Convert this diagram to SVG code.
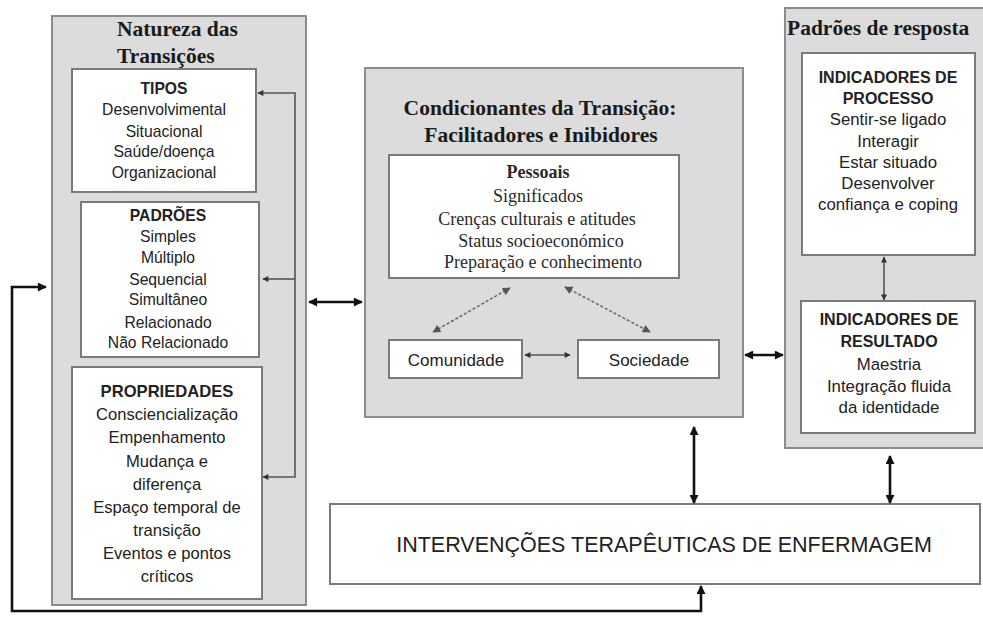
<svg xmlns="http://www.w3.org/2000/svg" width="983" height="617" viewBox="0 0 983 617">
<style>
.panel{fill:#dcdcdc;stroke:#8c8c8c;stroke-width:2}
.box{fill:#ffffff;stroke:#7a7a7a;stroke-width:2}
.title{font-family:"Liberation Serif","Times New Roman",serif;font-weight:bold;font-size:21.5px;fill:#1a1a1a}
.ser{font-family:"Liberation Serif","Times New Roman",serif;font-size:18px;fill:#2a2a2a;text-anchor:middle}
.s{font-family:"Liberation Sans",Arial,sans-serif;fill:#222;text-anchor:middle}
.b{font-weight:bold}
.blk{fill:none;stroke:#111;stroke-width:2.6}
.gry{fill:none;stroke:#555;stroke-width:1.6}
.dot{fill:none;stroke:#666;stroke-width:1.5;stroke-dasharray:3 2}
</style>
<defs>
<marker id="ab" viewBox="0 0 10 10" refX="9" refY="5" markerUnits="userSpaceOnUse" markerWidth="10" markerHeight="9" orient="auto-start-reverse">
<path d="M0,0 L10,5 L0,10 z" fill="#111"/>
</marker>
<marker id="ag" viewBox="0 0 10 10" refX="9" refY="5" markerUnits="userSpaceOnUse" markerWidth="7" markerHeight="6" orient="auto-start-reverse">
<path d="M0,0 L10,5 L0,10 z" fill="#333"/>
</marker>
<marker id="ad" viewBox="0 0 10 10" refX="9" refY="5" markerUnits="userSpaceOnUse" markerWidth="9" markerHeight="8" orient="auto-start-reverse">
<path d="M0,0 L10,5 L0,10 z" fill="#555"/>
</marker>
</defs>

<g id="natureza">
<rect class="panel" x="52" y="16" width="254" height="589"/>
<text class="title" x="117" y="36">Natureza das</text>
<text class="title" x="117" y="63">Transições</text>
</g>

<g id="tipos">
<rect class="box" x="72" y="69" width="184" height="123"/>
<g class="s" font-size="15.7">
<text class="b" x="164" y="94">TIPOS</text>
<text x="164" y="115">Desenvolvimental</text>
<text x="164" y="137">Situacional</text>
<text x="164" y="157">Saúde/doença</text>
<text x="164" y="178">Organizacional</text>
</g>
</g>

<g id="padroes">
<rect class="box" x="81" y="202" width="178" height="155"/>
<g class="s" font-size="15.7">
<text class="b" x="168" y="221">PADRÕES</text>
<text x="168" y="242">Simples</text>
<text x="168" y="263">Múltiplo</text>
<text x="168" y="285">Sequencial</text>
<text x="168" y="305">Simultâneo</text>
<text x="168" y="328">Relacionado</text>
<text x="168" y="348">Não Relacionado</text>
</g>
</g>

<g id="propriedades">
<rect class="box" x="72" y="367" width="190" height="232"/>
<g class="s" font-size="16.6">
<text class="b" x="167" y="397">PROPRIEDADES</text>
<text x="167" y="420">Consciencialização</text>
<text x="167" y="443">Empenhamento</text>
<text x="167" y="467">Mudança e</text>
<text x="167" y="490">diferença</text>
<text x="167" y="513">Espaço temporal de</text>
<text x="167" y="536">transição</text>
<text x="167" y="559">Eventos e pontos</text>
<text x="167" y="582">críticos</text>
</g>
</g>

<g id="condicionantes">
<rect class="panel" x="365" y="68" width="378" height="349"/>
<text class="title" x="540" y="115" text-anchor="middle" font-size="22">Condicionantes da Transição:</text>
<text class="title" x="541" y="142" text-anchor="middle" font-size="22">Facilitadores e Inibidores</text>
</g>

<g id="pessoais">
<rect class="box" x="389" y="155" width="290" height="123"/>
<text class="ser b" x="538" y="178" fill="#111">Pessoais</text>
<text class="ser" x="538" y="202">Significados</text>
<text class="ser" x="537" y="225">Crenças culturais e atitudes</text>
<text class="ser" x="541" y="247">Status socioeconómico</text>
<text class="ser" x="543" y="268">Preparação e conhecimento</text>
</g>

<g id="comunidade">
<rect class="box" x="389" y="340" width="133" height="38"/>
<text class="s" x="456" y="366" font-size="17">Comunidade</text>
</g>

<g id="sociedade">
<rect class="box" x="578" y="340" width="141" height="38"/>
<text class="s" x="649" y="366" font-size="17">Sociedade</text>
</g>

<g id="padroes-resposta">
<rect class="panel" x="785" y="8" width="210" height="440"/>
<text class="title" x="787" y="35" font-size="23">Padrões de resposta</text>
</g>

<g id="indicadores-processo">
<rect class="box" x="802" y="53" width="173" height="202"/>
<g class="s" font-size="16.8">
<text class="b" x="888" y="83" font-size="16">INDICADORES DE</text>
<text class="b" x="888" y="104" font-size="16">PROCESSO</text>
<text x="888" y="125">Sentir-se ligado</text>
<text x="888" y="147">Interagir</text>
<text x="888" y="168">Estar situado</text>
<text x="888" y="189">Desenvolver</text>
<text x="888" y="210">confiança e coping</text>
</g>
</g>

<g id="indicadores-resultado">
<rect class="box" x="801" y="301" width="174" height="132"/>
<g class="s" font-size="16.8">
<text class="b" x="889" y="325" font-size="16">INDICADORES DE</text>
<text class="b" x="889" y="347" font-size="16">RESULTADO</text>
<text x="889" y="370">Maestria</text>
<text x="889" y="392">Integração fluida</text>
<text x="889" y="413">da identidade</text>
</g>
</g>

<g id="intervencoes">
<rect class="box" x="330" y="504" width="650" height="80"/>
<text class="s" x="664" y="552" font-size="21.5">INTERVENÇÕES TERAPÊUTICAS DE ENFERMAGEM</text>
</g>

<g id="connectors">
<path class="gry" d="M258,93 H295 V477 H263" marker-start="url(#ag)" marker-end="url(#ag)"/>
<path class="gry" d="M295,279 H263" marker-end="url(#ag)"/>
<path class="blk" d="M309,302 H362" marker-start="url(#ab)" marker-end="url(#ab)"/>
<path class="blk" d="M745,355 H783" marker-start="url(#ab)" marker-end="url(#ab)"/>
<path class="dot" d="M510,288 L433,332" marker-start="url(#ad)" marker-end="url(#ad)"/>
<path class="dot" d="M565,287 L650,332" marker-start="url(#ad)" marker-end="url(#ad)"/>
<path class="gry" d="M525,355 H570" stroke="#222" marker-start="url(#ag)" marker-end="url(#ag)"/>
<path class="gry" d="M884,257 V300" stroke="#222" marker-start="url(#ag)" marker-end="url(#ag)"/>
<path class="blk" d="M694,427 V503" marker-start="url(#ab)" marker-end="url(#ab)"/>
<path class="blk" d="M890,456 V503" marker-start="url(#ab)" marker-end="url(#ab)"/>
<path class="blk" d="M46,287 H12 V611 H701 V586" marker-start="url(#ab)" marker-end="url(#ab)"/>
</g>
</svg>
